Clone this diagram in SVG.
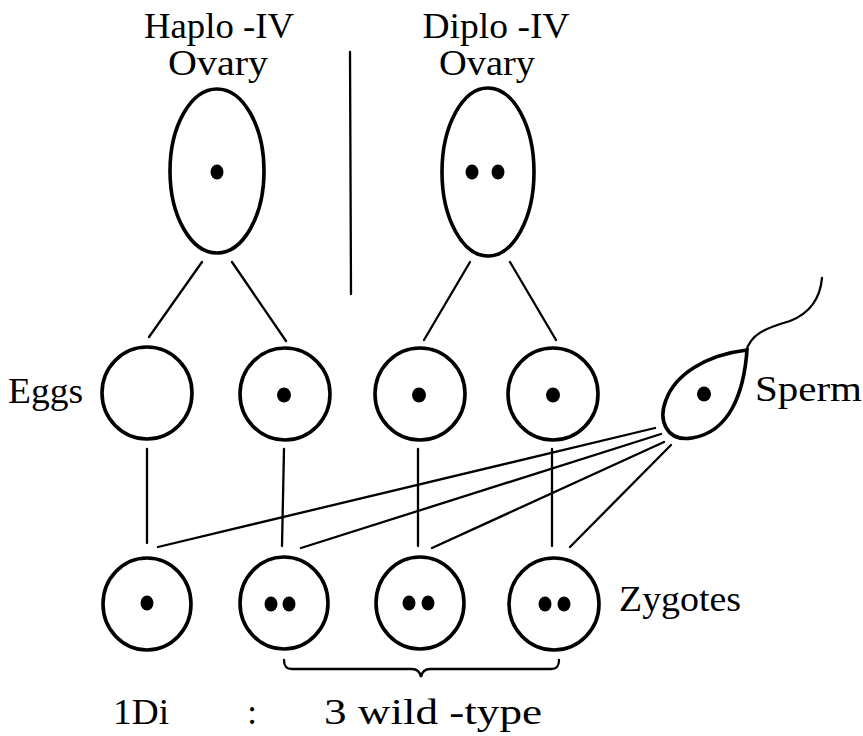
<svg xmlns="http://www.w3.org/2000/svg" width="863" height="736" viewBox="0 0 863 736">
  <style>
    .cell { fill: none; stroke: #000; stroke-width: 3.6; }
    .nuc { fill: #000; }
    .ln { fill: none; stroke: #000; stroke-width: 2.3; stroke-linecap: round; }
    .lbl { font-family: "Liberation Serif", "DejaVu Serif", serif; font-size: 35px; fill: #000; }
  </style>
  <rect width="863" height="736" fill="#fff"/>

  <!-- headings -->
  <g id="haplo-label">
    <text class="lbl" x="219" y="38" text-anchor="middle" textLength="150" lengthAdjust="spacingAndGlyphs">Haplo -IV</text>
    <text class="lbl" x="218" y="75" text-anchor="middle" textLength="100" lengthAdjust="spacingAndGlyphs">Ovary</text>
  </g>
  <g id="diplo-label">
    <text class="lbl" x="496" y="38" text-anchor="middle" textLength="147" lengthAdjust="spacingAndGlyphs">Diplo -IV</text>
    <text class="lbl" x="487" y="75" text-anchor="middle" textLength="96" lengthAdjust="spacingAndGlyphs">Ovary</text>
  </g>

  <!-- divider -->
  <line class="ln" x1="350" y1="52" x2="351" y2="294"/>

  <!-- ovaries -->
  <g id="ovary-haplo">
    <ellipse class="cell" cx="217" cy="171" rx="47" ry="82"/>
    <ellipse class="nuc" cx="217" cy="172" rx="6.5" ry="7.5"/>
  </g>
  <g id="ovary-diplo">
    <ellipse class="cell" cx="488" cy="172" rx="46" ry="84"/>
    <ellipse class="nuc" cx="472" cy="172" rx="6.5" ry="7.5"/>
    <ellipse class="nuc" cx="498" cy="172" rx="6.5" ry="7.5"/>
  </g>

  <!-- eggs -->
  <g id="eggs-label"><text class="lbl" x="8" y="403" textLength="75" lengthAdjust="spacingAndGlyphs">Eggs</text></g>
  <g id="egg-1"><ellipse class="cell" cx="147" cy="393" rx="45" ry="46"/></g>
  <g id="egg-2">
    <ellipse class="cell" cx="285" cy="394" rx="45" ry="46"/>
    <ellipse class="nuc" cx="284" cy="395" rx="7" ry="7.5"/>
  </g>
  <g id="egg-3">
    <ellipse class="cell" cx="420" cy="394" rx="45" ry="46"/>
    <ellipse class="nuc" cx="419" cy="395" rx="7" ry="7.5"/>
  </g>
  <g id="egg-4">
    <ellipse class="cell" cx="553" cy="394" rx="45" ry="46"/>
    <ellipse class="nuc" cx="553" cy="395" rx="7" ry="7.5"/>
  </g>

  <!-- sperm -->
  <g id="sperm">
    <path class="cell" d="M747,350 C744,392 730,432 692,438 C666,442 658,420 666,400 C675,375 705,355 747,350 Z"/>
    <path class="ln" d="M746,352 C750,334 766,328 790,321 C808,314 820,300 822,278" stroke-width="2.4"/>
    <ellipse class="nuc" cx="704" cy="394" rx="7" ry="7.5"/>
    <text class="lbl" x="755" y="401" textLength="107" lengthAdjust="spacingAndGlyphs">Sperm</text>
  </g>

  <!-- zygotes -->
  <g id="zygote-1">
    <ellipse class="cell" cx="147" cy="604" rx="44" ry="46"/>
    <ellipse class="nuc" cx="147" cy="603" rx="6.5" ry="7.5"/>
  </g>
  <g id="zygote-2">
    <ellipse class="cell" cx="284" cy="603" rx="44" ry="46"/>
    <ellipse class="nuc" cx="271" cy="604" rx="6.5" ry="7.5"/>
    <ellipse class="nuc" cx="289" cy="604" rx="6.5" ry="7.5"/>
  </g>
  <g id="zygote-3">
    <ellipse class="cell" cx="420" cy="603" rx="44" ry="46"/>
    <ellipse class="nuc" cx="409" cy="603" rx="6.5" ry="7.5"/>
    <ellipse class="nuc" cx="428" cy="603" rx="6.5" ry="7.5"/>
  </g>
  <g id="zygote-4">
    <ellipse class="cell" cx="554" cy="604" rx="45" ry="46"/>
    <ellipse class="nuc" cx="545" cy="604" rx="6.5" ry="7.5"/>
    <ellipse class="nuc" cx="564" cy="604" rx="6.5" ry="7.5"/>
  </g>
  <g id="zygotes-label"><text class="lbl" x="619" y="611" textLength="122" lengthAdjust="spacingAndGlyphs">Zygotes</text></g>

  <!-- connectors -->
  <g id="connectors">
    <line class="ln" x1="202" y1="262" x2="149" y2="337"/>
    <line class="ln" x1="232" y1="262" x2="286" y2="341"/>
    <line class="ln" x1="470" y1="262" x2="424" y2="340"/>
    <line class="ln" x1="510" y1="262" x2="556" y2="340"/>

    <line class="ln" x1="147" y1="449" x2="147" y2="543"/>
    <line class="ln" x1="284" y1="449" x2="282" y2="546"/>
    <line class="ln" x1="418" y1="449" x2="418" y2="546"/>
    <line class="ln" x1="552" y1="449" x2="552" y2="546"/>

    <line class="ln" x1="655" y1="428" x2="158" y2="547"/>
    <line class="ln" x1="661" y1="434" x2="301" y2="548"/>
    <line class="ln" x1="664" y1="442" x2="432" y2="548"/>
    <line class="ln" x1="671" y1="445" x2="570" y2="547"/>
  </g>

  <!-- bracket and ratio -->
  <g id="ratio">
    <path class="ln" d="M284,660 C284,666 286,669 292,669 L412,669 C418,669 420,672 421,677 C422,672 424,669 430,669 L551,669 C557,669 559,666 559,660"/>
    <text class="lbl" x="113" y="724" textLength="56" lengthAdjust="spacingAndGlyphs">1Di</text>
    <text class="lbl" x="252" y="724" text-anchor="middle">:</text>
    <text class="lbl" x="324" y="724" textLength="218" lengthAdjust="spacingAndGlyphs">3  wild -type</text>
  </g>
</svg>
